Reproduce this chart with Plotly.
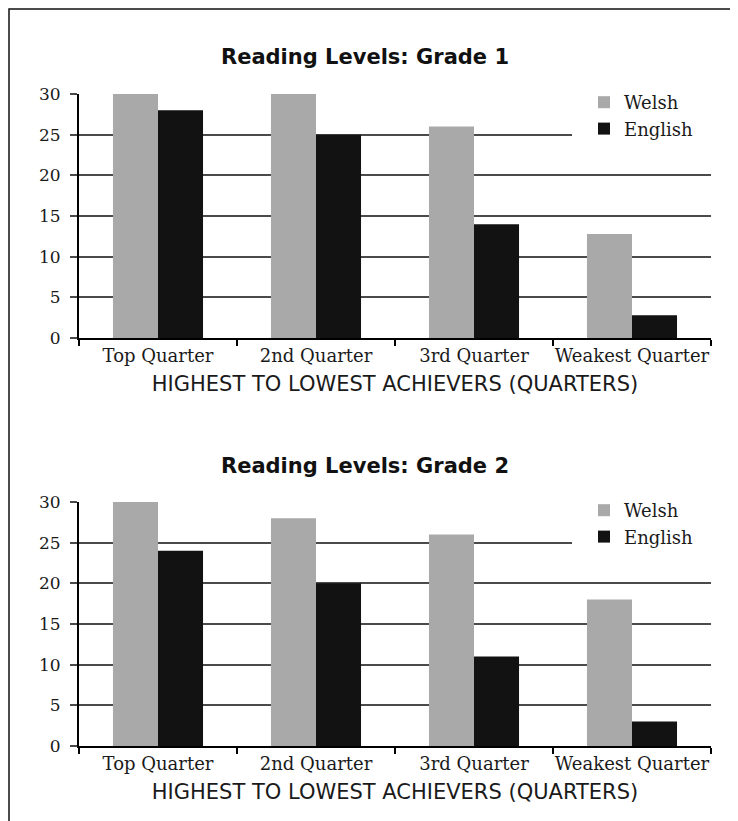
import plotly.graph_objects as go

categories = ["Top Quarter", "2nd Quarter", "3rd Quarter", "Weakest Quarter"]
grade1_welsh = [30, 30, 26, 12.8]
grade1_english = [28, 25, 14, 2.8]
grade2_welsh = [30, 28, 26, 18]
grade2_english = [24, 20, 11, 3]
y_ticks = [0, 5, 10, 15, 20, 25, 30]
titles = ["Reading Levels: Grade 1", "Reading Levels: Grade 2"]
x_title = "HIGHEST TO LOWEST ACHIEVERS (QUARTERS)"

W, H = 738, 821
OFF = 8  # page offset of the plot div
WELSH_C = "#a9a9a9"
ENG_C = "#121212"
GRID_C = "#4a4a4a"
SERIF = "DejaVu Serif"
SANS = "DejaVu Sans"

def sx(px):
    return (px - OFF) / W

def sy(px):
    return (H - (px - OFF)) / H

fig = go.Figure()

panels = [
    (grade1_welsh, grade1_english, "x", "y", "legend"),
    (grade2_welsh, grade2_english, "x2", "y2", "legend2"),
]

for welsh, eng, xa, ya, lg in panels:
    fig.add_trace(go.Bar(x=categories, y=welsh, name="Welsh", marker_color=WELSH_C,
                         marker_line_width=0, xaxis=xa, yaxis=ya, legend=lg))
    fig.add_trace(go.Bar(x=categories, y=eng, name="English", marker_color=ENG_C,
                         marker_line_width=0, xaxis=xa, yaxis=ya, legend=lg))

common_x = dict(
    domain=[sx(79), sx(711)], type="category", showline=True, linecolor="black", linewidth=2,
    ticks="outside", tickson="boundaries", ticklen=6, tickcolor="black", tickwidth=1.5,
    tickangle=0, showgrid=False, automargin=False,
    tickfont=dict(family=SERIF, size=18, color="#1a1a1a"),
    title=dict(text=x_title, font=dict(family=SANS, size=21, color="#1a1a1a"), standoff=12),
)
common_y = dict(
    range=[0, 30], tickvals=y_ticks, showline=True, linecolor="black", linewidth=2,
    ticks="outside", ticklen=7, tickcolor=GRID_C, tickwidth=1.5, automargin=False,
    showgrid=True, gridcolor=GRID_C, gridwidth=1.5, zeroline=False,
    tickfont=dict(family=SERIF, size=17, color="#1a1a1a"), ticklabelstandoff=6,
)

legend_common = dict(xanchor="left", yanchor="top", bgcolor="white", bordercolor="white",
                     borderwidth=12, font=dict(family=SERIF, size=18, color="#1a1a1a"))

fig.update_layout(
    width=W, height=H,
    margin=dict(l=0, r=0, t=0, b=0),
    paper_bgcolor="white", plot_bgcolor="white",
    barmode="group", bargap=0.43, bargroupgap=0,
    xaxis=dict(**common_x, anchor="y"),
    yaxis=dict(**common_y, domain=[sy(338), sy(94)], anchor="x"),
    xaxis2=dict(**common_x, anchor="y2"),
    yaxis2=dict(**common_y, domain=[sy(746), sy(502)], anchor="x2"),
    legend=dict(**legend_common, x=sx(572), y=sy(72)),
    legend2=dict(**legend_common, x=sx(572), y=sy(480)),
    showlegend=True,
    annotations=[
        dict(text="<b>" + titles[0] + "</b>", x=sx(365), y=sy(57), xref="paper", yref="paper",
             xanchor="center", yanchor="middle", showarrow=False,
             font=dict(family=SANS, size=21, color="#111111")),
        dict(text="<b>" + titles[1] + "</b>", x=sx(365), y=sy(466), xref="paper", yref="paper",
             xanchor="center", yanchor="middle", showarrow=False,
             font=dict(family=SANS, size=21, color="#111111")),
    ],
    shapes=[
        dict(type="rect", xref="paper", yref="paper", x0=sx(9), x1=1.05, y0=-0.05, y1=sy(9),
             line=dict(color="#111111", width=1.5), fillcolor="rgba(0,0,0,0)"),
    ],
)

fig.write_html("out.html")
